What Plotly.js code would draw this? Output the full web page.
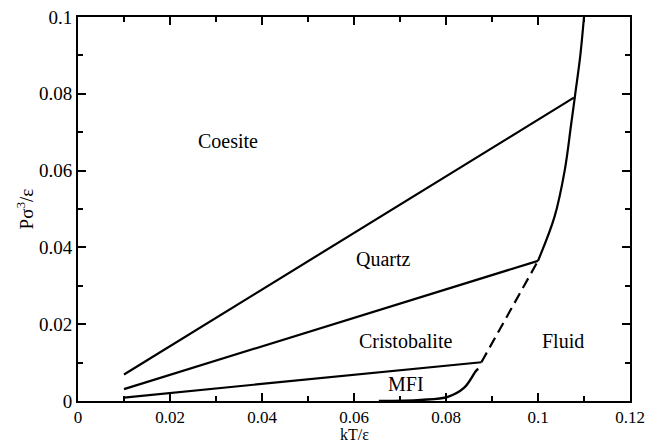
<!DOCTYPE html>
<html>
<head>
<meta charset="utf-8">
<script src="https://cdn.plot.ly/plotly-3.0.1.min.js"></script>
<style>html,body{margin:0;padding:0;background:#fff;}#chart{width:648px;height:445px;}</style>
</head>
<body>
<div id="chart"></div>
<script>
// Phase boundaries (kT/ε, Pσ³/ε)
const coesiteQuartzX = [0.01, 0.1078];
const coesiteQuartzY = [0.0069, 0.079];
const quartzCristX = [0.01, 0.1];
const quartzCristY = [0.0031, 0.0365];
const cristMfiX = [0.01, 0.0877];
const cristMfiY = [0.0009, 0.0101];
const dashedX = [0.0877, 0.1];
const dashedY = [0.0101, 0.0365];
const fluidX = [0.1, 0.1036, 0.1058, 0.1072, 0.1081, 0.1092, 0.1100];
const fluidY = [0.0365, 0.0480, 0.0600, 0.0720, 0.0800, 0.0900, 0.1000];
const mfiX = [0.0654, 0.0745, 0.0804, 0.0839, 0.0865, 0.0870];
const mfiY = [0.0, 0.0003, 0.0011, 0.0034, 0.0078, 0.0084];

const labelText = ["Coesite", "Quartz", "Cristobalite", "Fluid", "MFI"];
const labelX = [0.0325, 0.0665, 0.0712, 0.1054, 0.0712];
const labelY = [0.0678, 0.0371, 0.0157, 0.0157, 0.0045];

const xTickVals = [0, 0.02, 0.04, 0.06, 0.08, 0.1, 0.12];
const xTickText = ["0", "0.02", "0.04", "0.06", "0.08", "0.1", "0.12"];
const yTickVals = [0, 0.02, 0.04, 0.06, 0.08, 0.1];
const yTickText = ["0", "0.02", "0.04", "0.06", "0.08", "0.1"];

const FAM = 'Times New Roman, Liberation Serif, serif';
const solid = {color: '#000', width: 2.2};
const traces = [
  {x: coesiteQuartzX, y: coesiteQuartzY, mode: 'lines', line: solid},
  {x: quartzCristX, y: quartzCristY, mode: 'lines', line: solid},
  {x: cristMfiX, y: cristMfiY, mode: 'lines', line: solid},
  {x: dashedX, y: dashedY, mode: 'lines', line: {color: '#000', width: 2.2, dash: '11px,6px'}},
  {x: fluidX, y: fluidY, mode: 'lines', line: {color: '#000', width: 2.2, shape: 'spline', smoothing: 1}},
  {x: mfiX, y: mfiY, mode: 'lines', line: {color: '#000', width: 2.4, shape: 'spline', smoothing: 1}}
];

const annotations = labelText.map((t, i) => ({
  x: labelX[i], y: labelY[i], xref: 'x', yref: 'y', text: t, showarrow: false,
  font: {family: FAM, size: 20, color: '#000'}
}));
annotations.push({
  x: 0.5, y: 0, xref: 'paper', yref: 'paper', yanchor: 'top', yshift: -23,
  text: 'kT/ε', showarrow: false, font: {family: FAM, size: 16, color: '#000'}
});

const axisCommon = {
  showgrid: false, zeroline: false, showline: true, linecolor: '#000', linewidth: 2,
  mirror: 'allticks', ticks: 'inside', ticklen: 8, tickwidth: 2, tickcolor: '#000',
  tickfont: {family: FAM, size: 19, color: '#000'}
};

const layout = {
  width: 648, height: 445,
  margin: {l: 78, r: 18, t: 17, b: 44},
  paper_bgcolor: '#fff', plot_bgcolor: '#fff',
  showlegend: false,
  font: {family: FAM, size: 19, color: '#000'},
  xaxis: Object.assign({}, axisCommon, {
    range: [0, 0.12], tickvals: xTickVals, ticktext: xTickText,
    tickfont: {family: FAM, size: 17, color: '#000'},
    minor: {dtick: 0.01, ticks: 'inside', ticklen: 5, tickwidth: 2, tickcolor: '#000'}
  }),
  yaxis: Object.assign({}, axisCommon, {
    range: [0, 0.1], tickvals: yTickVals, ticktext: yTickText,
    minor: {dtick: 0.01, ticks: 'inside', ticklen: 5, tickwidth: 2, tickcolor: '#000'},
    title: {text: 'Pσ<sup>3</sup>/ε', font: {family: FAM, size: 19, color: '#000'}, standoff: 0}
  }),
  annotations: annotations
};

Plotly.newPlot('chart', traces, layout, {staticPlot: true, displayModeBar: false});
</script>
</body>
</html>
